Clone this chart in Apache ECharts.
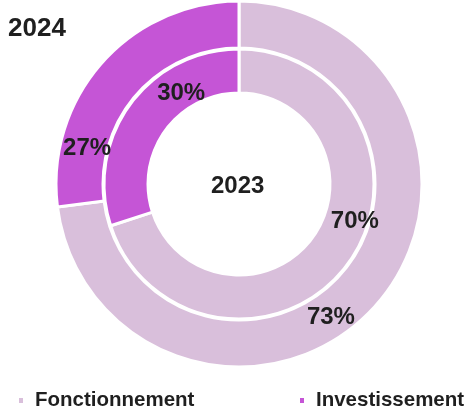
<!DOCTYPE html>
<html>
<head>
<meta charset="utf-8">
<script src="https://cdn.jsdelivr.net/npm/echarts@6/dist/echarts.min.js"></script>
<style>
html,body{margin:0;padding:0;background:#fff;}
#c{width:469px;height:416px;}
</style>
</head>
<body>
<div id="c"></div>
<script>
const categories = ['Fonctionnement', 'Investissement'];
const values2024 = [73, 27];
const values2023 = [70, 30];
const yearOuter = '2024';
const yearInner = '2023';

const colors = ['#D9BFDB', '#C555D6'];
const FONT = '"Liberation Sans", Arial, sans-serif';

// label nudges (px) to mimic reference placement
const outerNudge = [[-30, 26], [-30, 72]];
const innerNudge = [[22, -31], [36, -22]];

const chart = echarts.init(document.getElementById('c'), null, {renderer: 'canvas'});

function mk(vals) {
  return categories.map((n, i) => ({name: n, value: vals[i], itemStyle: {color: colors[i]}}));
}

const labelStyle = {
  show: true,
  position: 'inside',
  formatter: '{c}%',
  fontFamily: FONT,
  fontWeight: 'bold',
  fontSize: 24,
  color: '#1f1f1f'
};

const legendBase = {
  top: 390,
  padding: 0,
  icon: 'rect',
  itemWidth: 6,
  itemHeight: 7,
  selectedMode: false,
  textStyle: {fontFamily: FONT, fontWeight: 'bold', fontSize: 20.5, color: '#1f1f1f', padding: [0, 0, 0, 6]}
};

chart.setOption({
  animation: false,
  color: colors,
  title: {
    text: yearOuter,
    left: 3,
    top: 11,
    textStyle: {fontFamily: FONT, fontWeight: 'bold', fontSize: 26, color: '#1f1f1f'}
  },
  legend: [
    Object.assign({}, legendBase, {data: [categories[0]], left: 17}),
    Object.assign({}, legendBase, {data: [categories[1]], left: 298})
  ],
  graphic: [{
    type: 'text',
    left: 211,
    top: 174,
    style: {text: yearInner, font: 'bold 24px ' + FONT, fill: '#1f1f1f'}
  }],
  series: [
    {
      name: yearOuter,
      type: 'pie',
      center: [239, 184],
      radius: [136, 183],
      startAngle: 90,
      clockwise: true,
      avoidLabelOverlap: false,
      itemStyle: {borderColor: '#fff', borderWidth: 3},
      label: labelStyle,
      labelLine: {show: false},
      emphasis: {disabled: true},
      labelLayout: function (p) { const n = outerNudge[p.dataIndex]; return {dx: n[0], dy: n[1]}; },
      data: mk(values2024)
    },
    {
      name: yearInner,
      type: 'pie',
      center: [239, 184],
      radius: [91, 135],
      startAngle: 90,
      clockwise: true,
      avoidLabelOverlap: false,
      itemStyle: {borderColor: '#fff', borderWidth: 3},
      label: labelStyle,
      labelLine: {show: false},
      emphasis: {disabled: true},
      labelLayout: function (p) { const n = innerNudge[p.dataIndex]; return {dx: n[0], dy: n[1]}; },
      data: mk(values2023)
    }
  ]
});
</script>
</body>
</html>
